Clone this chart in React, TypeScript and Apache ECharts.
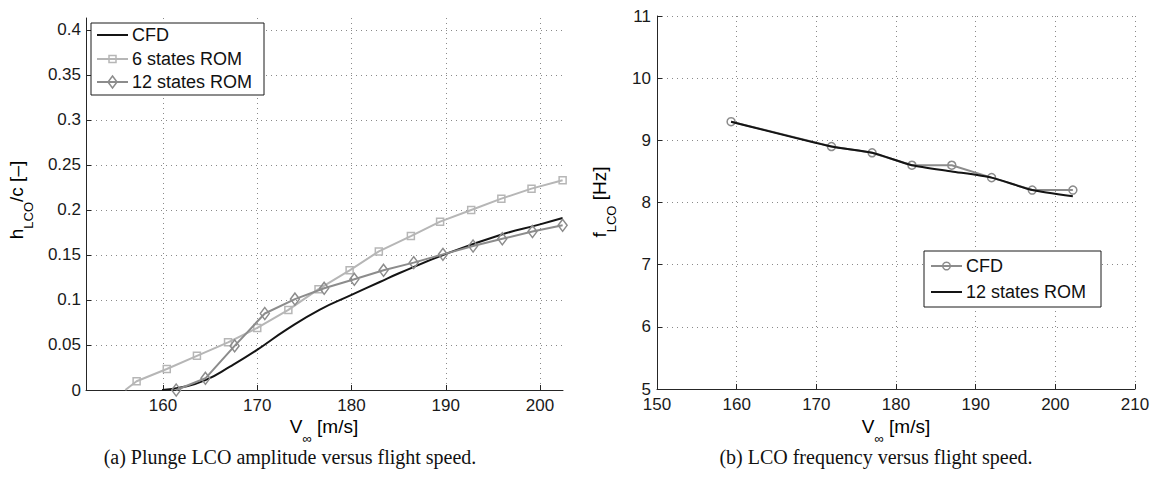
import React, { useEffect, useRef } from "react";
import * as echarts from "echarts";

// ---------- Data: (a) plunge LCO amplitude ----------
const V_CFD_A = [159.9, 162.0, 164.5, 167.1, 169.9, 173.1, 176.6, 180.0, 183.0, 185.1, 189.9, 195.7, 200.0, 202.4];
const H_CFD_A = [0.0, 0.003, 0.011, 0.026, 0.044, 0.067, 0.089, 0.1056, 0.12, 0.13, 0.1507, 0.172, 0.184, 0.191];

const V_ROM6 = [156.0, 157.2, 160.4, 163.6, 166.9, 170.0, 173.3, 176.5, 179.8, 182.9, 186.3, 189.4, 192.7, 195.9, 199.1, 202.4];
const H_ROM6 = [0.0, 0.0097, 0.0233, 0.038, 0.053, 0.069, 0.089, 0.112, 0.133, 0.154, 0.171, 0.187, 0.2, 0.2126, 0.2237, 0.233];

const V_ROM12 = [161.4, 164.5, 167.6, 170.8, 174.0, 177.1, 180.3, 183.4, 186.6, 189.7, 192.9, 196.0, 199.2, 202.4];
const H_ROM12 = [0.0, 0.013, 0.049, 0.085, 0.101, 0.113, 0.123, 0.133, 0.1415, 0.1507, 0.16, 0.168, 0.176, 0.183];

const A_X_TICKS = [160, 170, 180, 190, 200];
const A_Y_TICKS = [0, 0.05, 0.1, 0.15, 0.2, 0.25, 0.3, 0.35, 0.4];

// ---------- Data: (b) LCO frequency ----------
const V_CFD_B = [159.3, 171.9, 177.0, 182.0, 187.0, 192.0, 197.1, 202.2];
const F_CFD_B = [9.3, 8.9, 8.8, 8.6, 8.6, 8.4, 8.2, 8.2];

const V_ROM12_B = [159.3, 171.9, 177.0, 182.0, 187.0, 192.0, 197.1, 202.2];
const F_ROM12_B = [9.3, 8.9, 8.8, 8.6, 8.5, 8.4, 8.2, 8.1];

const CAPTION_A = "(a) Plunge LCO amplitude versus flight speed.";
const CAPTION_B = "(b) LCO frequency versus flight speed.";

const zip = (xs: number[], ys: number[]) => xs.map((x, i) => [x, ys[i]]);

const FONT = "Liberation Sans, Arial, Helvetica, sans-serif";
const SERIF = "Liberation Serif, Times New Roman, serif";
const AXIS_COLOR = "#262626";
const GRID_COLOR = "#8a8a8a";
const C_BLACK = "#141414";
const C_LIGHT = "#b6b6b6";
const C_MID = "#8c8c8c";

const tickFont = { fontFamily: FONT, fontSize: 17, color: "#1a1a1a", lineHeight: 14 };

function legendGraphics(
  x0: number, y0: number, w: number, h: number,
  rows: { y: number; color: string; symbol?: string; text: string }[],
  lineX0: number, lineX1: number, textX: number
) {
  const els: any[] = [
    { type: "rect", shape: { x: x0, y: y0, width: w, height: h }, style: { fill: "#fff", stroke: "#1a1a1a", lineWidth: 1 }, z: 100 },
  ];
  rows.forEach((r) => {
    els.push({ type: "line", shape: { x1: lineX0, y1: r.y, x2: lineX1, y2: r.y }, style: { stroke: r.color, lineWidth: 2 }, z: 101 });
    const cx = (lineX0 + lineX1) / 2;
    if (r.symbol === "rect") {
      els.push({ type: "rect", shape: { x: cx - 3.5, y: r.y - 3.5, width: 7, height: 7 }, style: { fill: "none", stroke: r.color, lineWidth: 1.5 }, z: 102 });
    } else if (r.symbol === "diamond") {
      els.push({ type: "polygon", shape: { points: [[cx, r.y - 6], [cx + 4.5, r.y], [cx, r.y + 6], [cx - 4.5, r.y]] }, style: { fill: "none", stroke: r.color, lineWidth: 1.5 }, z: 102 });
    } else if (r.symbol === "circle") {
      els.push({ type: "circle", shape: { cx, cy: r.y, r: 3.8 }, style: { fill: "none", stroke: r.color, lineWidth: 1.5 }, z: 102 });
    }
    els.push({ type: "text", x: textX, y: r.y, style: { text: r.text, fontFamily: FONT, fontSize: 18, fill: "#111", verticalAlign: "middle", align: "left" }, z: 102 });
  });
  return els;
}

const subRich = {
  m: { fontFamily: FONT, fontSize: 19, lineHeight: 22, verticalAlign: "top", color: "#111" },
  s: { fontFamily: FONT, fontSize: 13, lineHeight: 14, verticalAlign: "top", padding: [15, 0, 0, 0], color: "#111" },
};

export default function App() {
  const ref = useRef<HTMLDivElement>(null);
  useEffect(() => {
    if (!ref.current) return;
    const chart = echarts.init(ref.current, undefined, { renderer: "svg" });
    const splitLine = { show: true, lineStyle: { color: GRID_COLOR, type: [1, 4], width: 1 } };
    const axisLine = { show: true, onZero: false, lineStyle: { color: AXIS_COLOR, width: 1 } };
    const option: any = {
      animation: false,
      backgroundColor: "#fff",
      grid: [
        { left: 86, top: 18, width: 477, height: 372 },
        { left: 657, top: 16, width: 478, height: 373 },
      ],
      xAxis: [
        {
          gridIndex: 0, type: "value", min: 151.83, max: 202.44,
          axisLine, splitLine,
          axisTick: { show: true, inside: true, length: 5, customValues: A_X_TICKS, lineStyle: { color: AXIS_COLOR } },
          axisLabel: { ...tickFont, margin: 8, customValues: A_X_TICKS },
        },
        {
          gridIndex: 1, type: "value", min: 150, max: 210, interval: 10,
          axisLine, splitLine,
          axisTick: { show: true, inside: true, length: 5, lineStyle: { color: AXIS_COLOR } },
          axisLabel: { ...tickFont, margin: 8 },
        },
      ],
      yAxis: [
        {
          gridIndex: 0, type: "value", min: 0, max: 0.4133,
          axisLine, splitLine,
          axisTick: { show: true, inside: true, length: 5, customValues: A_Y_TICKS, lineStyle: { color: AXIS_COLOR } },
          axisLabel: { ...tickFont, margin: 5, customValues: A_Y_TICKS },
        },
        {
          gridIndex: 1, type: "value", min: 5, max: 11, interval: 1,
          axisLine, splitLine,
          axisTick: { show: true, inside: true, length: 5, lineStyle: { color: AXIS_COLOR } },
          axisLabel: { ...tickFont, margin: 6 },
        },
      ],
      series: [
        {
          name: "CFD", type: "line", xAxisIndex: 0, yAxisIndex: 0, smooth: true, showSymbol: false, symbol: "none",
          data: zip(V_CFD_A, H_CFD_A), lineStyle: { color: C_BLACK, width: 2 }, z: 3,
        },
        {
          name: "6 states ROM", type: "line", xAxisIndex: 0, yAxisIndex: 0, symbol: "rect", symbolSize: 7,
          data: zip(V_ROM6, H_ROM6).map((p, i) => (i === 0 ? { value: p, symbol: "none" } : p)),
          lineStyle: { color: C_LIGHT, width: 2 },
          itemStyle: { color: "rgba(0,0,0,0)", borderColor: C_LIGHT, borderWidth: 1.5 }, z: 4,
        },
        {
          name: "12 states ROM", type: "line", xAxisIndex: 0, yAxisIndex: 0, symbol: "diamond", symbolSize: [9, 12],
          data: zip(V_ROM12, H_ROM12),
          lineStyle: { color: C_MID, width: 2 },
          itemStyle: { color: "rgba(0,0,0,0)", borderColor: C_MID, borderWidth: 1.5 }, z: 5,
        },
        {
          name: "CFD (b)", type: "line", xAxisIndex: 1, yAxisIndex: 1, symbol: "circle", symbolSize: 8,
          data: zip(V_CFD_B, F_CFD_B),
          lineStyle: { color: C_MID, width: 2 },
          itemStyle: { color: "rgba(0,0,0,0)", borderColor: C_MID, borderWidth: 1.5 }, z: 3,
        },
        {
          name: "12 states ROM (b)", type: "line", xAxisIndex: 1, yAxisIndex: 1, symbol: "none", smooth: 0.2,
          data: zip(V_ROM12_B, F_ROM12_B),
          lineStyle: { color: C_BLACK, width: 2 }, z: 4,
        },
      ],
      graphic: [
        ...legendGraphics(91, 23, 173, 72, [
          { y: 35, color: C_BLACK, text: "CFD" },
          { y: 59, color: C_LIGHT, symbol: "rect", text: "6 states ROM" },
          { y: 82, color: C_MID, symbol: "diamond", text: "12 states ROM" },
        ], 97, 128, 132),
        ...legendGraphics(924, 251, 177, 56, [
          { y: 266, color: C_MID, symbol: "circle", text: "CFD" },
          { y: 292, color: C_BLACK, text: "12 states ROM" },
        ], 931, 962, 966),
        {
          type: "text", x: 18, y: 200, rotation: Math.PI / 2,
          style: { text: "{m|h}{s|LCO}{m|/c [–]}", rich: subRich, align: "center", verticalAlign: "middle" },
        },
        {
          type: "text", x: 601, y: 202, rotation: Math.PI / 2,
          style: { text: "{m|f}{s|LCO}{m| [Hz]}", rich: subRich, align: "center", verticalAlign: "middle" },
        },
        {
          type: "text", x: 324, y: 428,
          style: { text: "{m|V}{s|∞}{m| [m/s]}", rich: subRich, align: "center", verticalAlign: "middle" },
        },
        {
          type: "text", x: 896, y: 428,
          style: { text: "{m|V}{s|∞}{m| [m/s]}", rich: subRich, align: "center", verticalAlign: "middle" },
        },
        {
          type: "text", x: 290, y: 457,
          style: { text: CAPTION_A, fontFamily: SERIF, fontSize: 20, fill: "#111", align: "center", verticalAlign: "middle" },
        },
        {
          type: "text", x: 876, y: 457,
          style: { text: CAPTION_B, fontFamily: SERIF, fontSize: 20, fill: "#111", align: "center", verticalAlign: "middle" },
        },
      ],
    };
    chart.setOption(option);
    return () => chart.dispose();
  }, []);
  return <div ref={ref} style={{ position: "absolute", left: 0, top: 0, width: 1156, height: 477 }} />;
}
